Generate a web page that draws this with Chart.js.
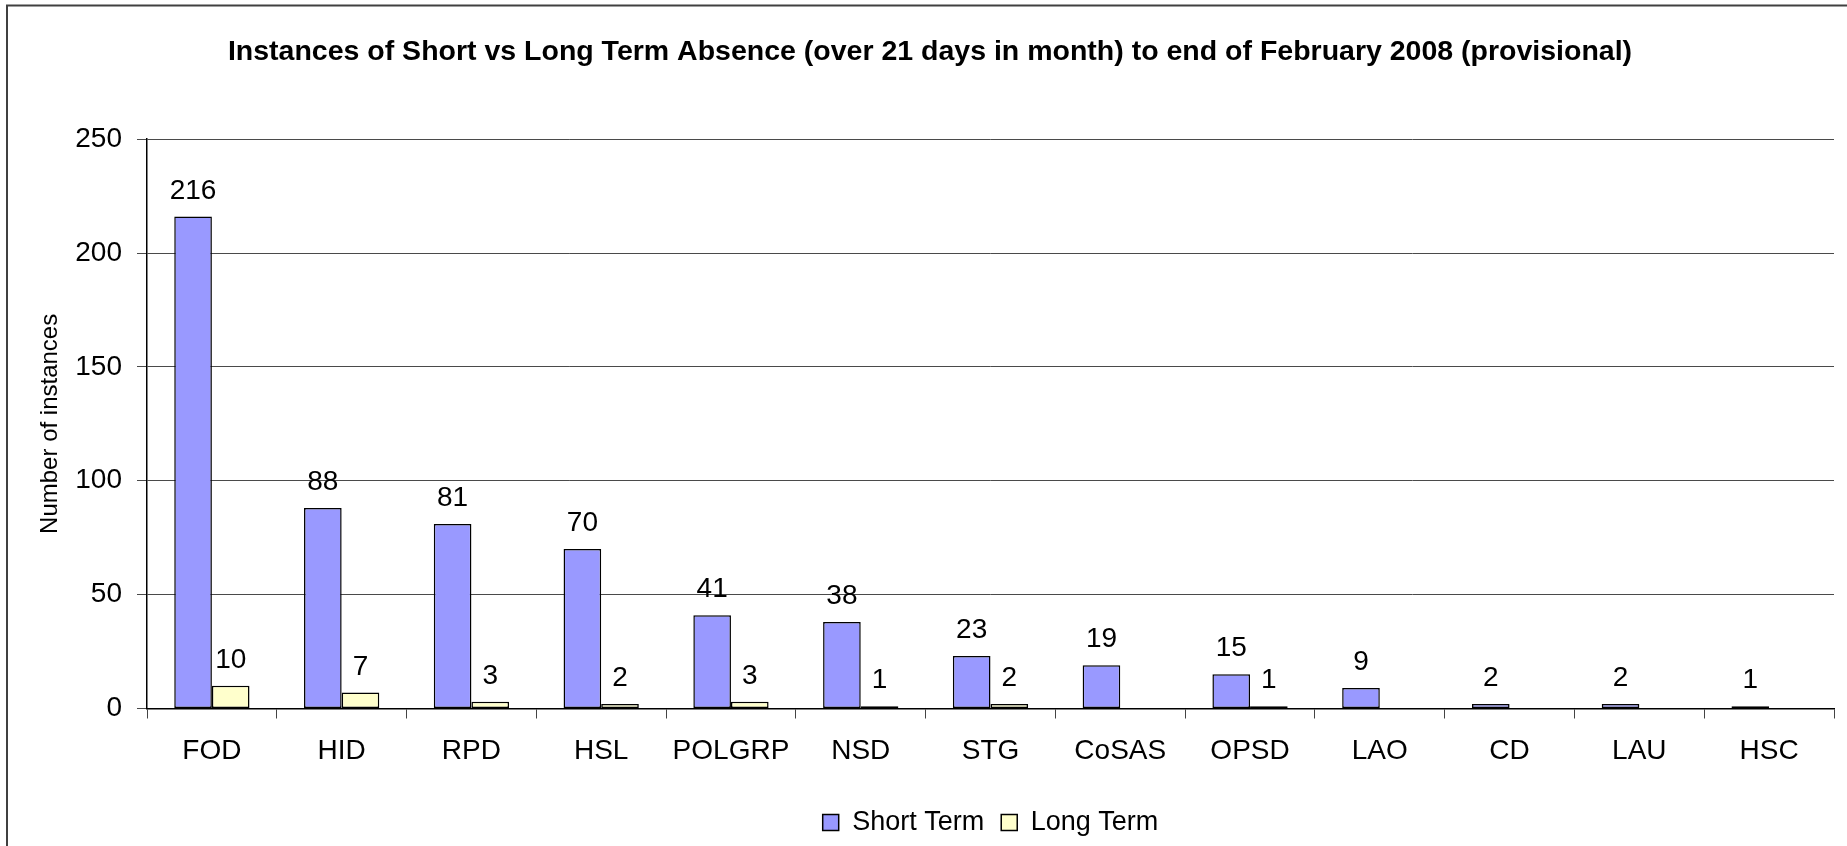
<!DOCTYPE html>
<html>
<head>
<meta charset="utf-8">
<script src="https://cdn.jsdelivr.net/npm/chart.js@4"></script>
<style>
  html, body { margin: 0; padding: 0; background: #ffffff; }
  #c { display: block; }
</style>
</head>
<body>
<canvas id="c" width="1847" height="846"></canvas>
<script>
const categories = ['FOD', 'HID', 'RPD', 'HSL', 'POLGRP', 'NSD', 'STG', 'CoSAS', 'OPSD', 'LAO', 'CD', 'LAU', 'HSC'];
const shortTerm = [216, 88, 81, 70, 41, 38, 23, 19, 15, 9, 2, 2, 1];
const longTerm = [10, 7, 3, 2, 3, 1, 2, null, 1, null, null, null, null];
const seriesNames = ['Short Term', 'Long Term'];
const yTicks = [0, 50, 100, 150, 200, 250];
const chartTitle = 'Instances of Short vs Long Term Absence (over 21 days in month) to end of February 2008 (provisional)';
const yAxisTitle = 'Number of instances';

const FONT = "'Liberation Sans', Arial, sans-serif";

const framePlugin = {
  id: 'frame',
  beforeDraw(chart) {
    const ctx = chart.ctx;
    ctx.save();
    ctx.fillStyle = '#ffffff';
    ctx.fillRect(0, 0, chart.width, chart.height);
    ctx.strokeStyle = '#404040';
    ctx.lineWidth = 2;
    ctx.strokeRect(7, 5.5, chart.width + 50, chart.height + 50);
    ctx.restore();
  }
};

const valueLabels = {
  id: 'valueLabels',
  afterDatasetsDraw(chart) {
    const ctx = chart.ctx;
    ctx.save();
    ctx.font = '28px ' + FONT;
    ctx.fillStyle = '#000000';
    ctx.textAlign = 'center';
    ctx.textBaseline = 'alphabetic';
    chart.data.datasets.forEach((ds, di) => {
      const meta = chart.getDatasetMeta(di);
      meta.data.forEach((el, i) => {
        const v = ds.data[i];
        if (v === null || v === undefined) return;
        ctx.fillText(String(v), el.x, el.y - 18);
      });
    });
    ctx.restore();
  }
};

new Chart(document.getElementById('c'), {
  type: 'bar',
  data: {
    labels: categories,
    datasets: [
      {
        label: seriesNames[0],
        data: shortTerm,
        backgroundColor: '#9999FF',
        borderColor: '#000000',
        borderWidth: 1.5,
        borderSkipped: false,
        categoryPercentage: 0.58,
        barPercentage: 1.0
      },
      {
        label: seriesNames[1],
        data: longTerm,
        backgroundColor: '#FFFFCC',
        borderColor: '#000000',
        borderWidth: 1.5,
        borderSkipped: false,
        categoryPercentage: 0.58,
        barPercentage: 1.0
      }
    ]
  },
  options: {
    responsive: false,
    animation: false,
    devicePixelRatio: 1,
    layout: { padding: { left: 26, right: 13, top: 0, bottom: 0 } },
    plugins: {
      title: {
        display: true,
        text: chartTitle,
        color: '#000000',
        font: { family: FONT, size: 28.5, weight: 'bold' },
        padding: { top: 35, bottom: 70 }
      },
      legend: {
        display: true,
        position: 'bottom',
        fullSize: false,
        labels: {
          color: '#000000',
          font: { family: FONT, size: 27 },
          boxWidth: 16,
          boxHeight: 16,
          padding: 17
        }
      },
      tooltip: { enabled: false }
    },
    scales: {
      x: {
        grid: {
          display: true,
          drawOnChartArea: false,
          drawTicks: true,
          tickLength: 10,
          color: '#444444',
          offset: true
        },
        border: { display: true, color: '#000000', width: 1.5 },
        ticks: {
          color: '#000000',
          font: { family: FONT, size: 28 },
          padding: 16,
          maxRotation: 0,
          autoSkip: false
        },
        afterFit(scale) { scale.height = 83.5; }
      },
      y: {
        min: 0,
        max: 250,
        afterBuildTicks(scale) { scale.ticks = yTicks.map(v => ({ value: v })); },
        grid: {
          display: true,
          drawOnChartArea: true,
          drawTicks: true,
          tickLength: 10,
          color: '#4a4a4a',
          lineWidth: 1
        },
        border: { display: true, color: '#000000', width: 1.5 },
        ticks: {
          color: '#000000',
          font: { family: FONT, size: 28 },
          padding: 15
        },
        title: {
          display: true,
          text: yAxisTitle,
          color: '#000000',
          font: { family: FONT, size: 24 },
          padding: { top: 10, bottom: 0 }
        },
        afterFit(scale) { scale.width = 121; }
      }
    }
  },
  plugins: [framePlugin, valueLabels]
});
</script>
</body>
</html>
